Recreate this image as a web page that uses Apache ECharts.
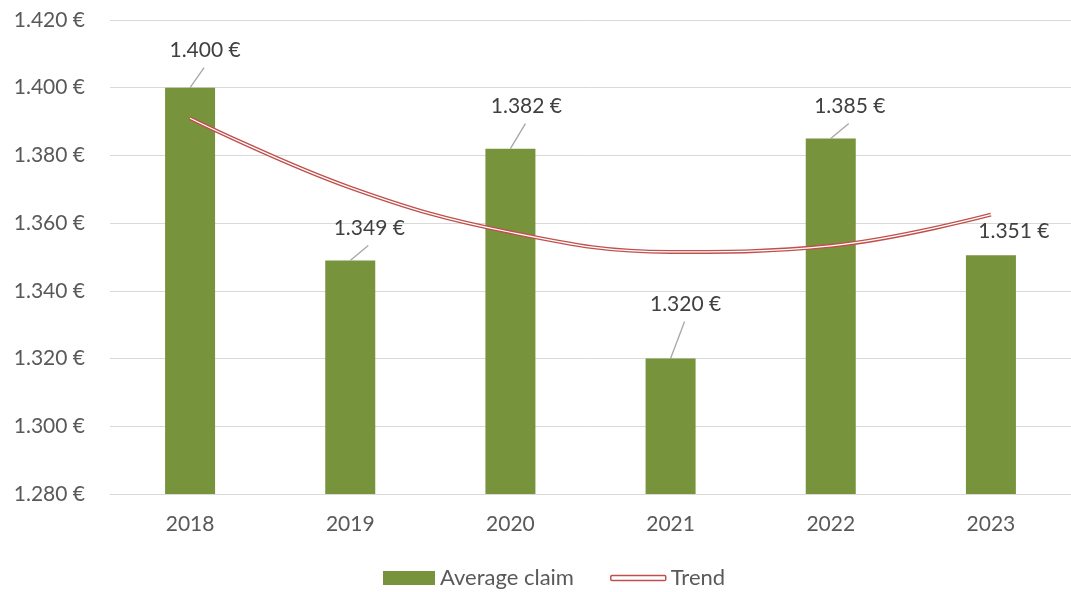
<!DOCTYPE html>
<html>
<head>
<meta charset="utf-8">
<title>Average claim</title>
<script src="https://cdn.jsdelivr.net/npm/echarts@6/dist/echarts.min.js"></script>
<style>
  html, body { margin: 0; padding: 0; background: #fff; }
  #chart { width: 1071px; height: 592px; }
</style>
</head>
<body>
<div id="chart"></div>
<script>
const years = ['2018', '2019', '2020', '2021', '2022', '2023']
const avgClaim = [1400, 1349, 1382, 1320, 1385, 1350.5]
// trend curve values read at each year
const trend = [1391, 1370.5, 1357.3, 1351.5, 1353.3, 1362.5]

// label placement relative to bar top centre (px) and whether a leader line is drawn
const labelDx = [15, 19, 16, 15, 19, 23]
const labelDy = [-37, -32, -42, -54, -32, -24]
const showLeader = [true, true, true, true, true, false]

const fmtEuro = v => {
  const n = Math.round(v)
  return Math.floor(n / 1000) + '.' + String(n % 1000).padStart(3, '0') + ' €'
}

const chart = echarts.init(document.getElementById('chart'))

const renderLabel = (params, api) => {
  const i = params.dataIndex
  const p = api.coord([api.value(0), api.value(1)])
  const lx = p[0] + labelDx[i]
  const ly = p[1] + labelDy[i]
  const children = []
  if (showLeader[i]) {
    children.push({
      type: 'line',
      shape: { x1: p[0], y1: p[1], x2: lx - 1, y2: ly + 17 },
      style: { stroke: '#a6a6a6', lineWidth: 1.3 }
    })
  }
  children.push({
    type: 'text',
    x: lx,
    y: ly,
    style: {
      text: fmtEuro(api.value(1)),
      fill: '#404040',
      font: '21px Lato',
      align: 'center',
      verticalAlign: 'middle'
    }
  })
  return { type: 'group', children }
}

const option = {
  animation: false,
  textStyle: { fontFamily: 'Lato' },
  grid: { left: 110, right: 0, top: 20, bottom: 98 },
  legend: [
    {
      data: ['Average claim'],
      left: 378,
      top: 562,
      icon: 'rect',
      itemWidth: 52,
      itemHeight: 14,
      textStyle: { color: '#595959', fontSize: 22, fontFamily: 'Lato' }
    },
    {
      data: ['Trend'],
      left: 605,
      top: 562,
      icon: 'roundRect',
      itemWidth: 55,
      itemHeight: 5,
      itemStyle: { color: '#fff', borderColor: '#C0504D', borderWidth: 1.5 },
      textStyle: { color: '#595959', fontSize: 22, fontFamily: 'Lato' }
    }
  ],
  xAxis: {
    type: 'category',
    data: years,
    axisLine: { lineStyle: { color: '#d9d9d9', width: 1 } },
    axisTick: { show: false },
    axisLabel: { color: '#595959', fontSize: 21, margin: 20 }
  },
  yAxis: {
    type: 'value',
    min: 1280,
    max: 1420,
    interval: 20,
    axisLine: { show: false },
    axisTick: { show: false },
    splitLine: { lineStyle: { color: '#d9d9d9', width: 1 } },
    axisLabel: { color: '#595959', fontSize: 21, margin: 25, formatter: fmtEuro }
  },
  series: [
    {
      name: 'Average claim',
      type: 'bar',
      data: avgClaim,
      barWidth: 50,
      itemStyle: { color: '#77933C' },
      z: 2
    },
    {
      name: 'Trend',
      type: 'line',
      data: trend,
      smooth: 0.4,
      symbol: 'none',
      lineStyle: { color: '#C0504D', width: 4 },
      itemStyle: { color: '#C0504D' },
      z: 3
    },
    {
      name: 'Trend inner',
      type: 'line',
      data: trend,
      smooth: 0.4,
      symbol: 'none',
      silent: true,
      lineStyle: { color: '#ffffff', width: 1.2 },
      z: 4
    },
    {
      name: 'Labels',
      type: 'custom',
      data: avgClaim.map((v, i) => [i, v]),
      renderItem: renderLabel,
      silent: true,
      z: 5
    }
  ]
}

chart.setOption(option)
</script>
</body>
</html>
